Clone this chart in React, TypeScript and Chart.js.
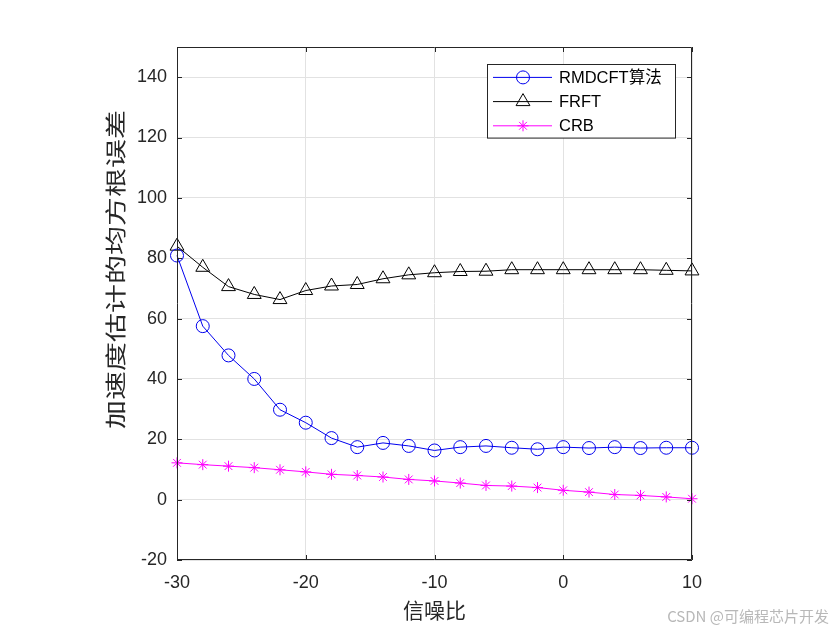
import { Chart, Plugin, registerables } from "chart.js";
import { drawPoint } from "chart.js/helpers";
import { useEffect, useRef } from "react";

Chart.register(...registerables);

const snr = [-30, -28, -26, -24, -22, -20, -18, -16, -14, -12, -10, -8, -6, -4, -2, 0, 2, 4, 6, 8, 10];
const rmdcft = [80.9, 57.5, 47.8, 40.0, 29.8, 25.5, 20.4, 17.4, 18.8, 17.8, 16.3, 17.4, 17.8, 17.2, 16.7, 17.4, 17.1, 17.4, 17.1, 17.2, 17.2];
const frft = [84.0, 77.0, 70.6, 68.0, 66.3, 69.3, 70.8, 71.3, 73.2, 74.5, 75.2, 75.6, 75.7, 76.2, 76.2, 76.2, 76.2, 76.2, 76.2, 76.0, 75.8];
const crb = [12.2, 11.6, 11.1, 10.6, 9.9, 9.2, 8.4, 8.0, 7.5, 6.7, 6.2, 5.5, 4.7, 4.5, 4.0, 3.1, 2.5, 1.7, 1.4, 0.9, 0.3];

const xTicks = [-30, -20, -10, 0, 10];
const yTicks = [-20, 0, 20, 40, 60, 80, 100, 120, 140];
const seriesNames = ["RMDCFT算法", "FRFT", "CRB"];
const xTitle = "信噪比";
const yTitle = "加速度估计的均方根误差";
const watermark = "CSDN @可编程芯片开发";

const latin = "'Liberation Sans', Arial, sans-serif";
const cjk = "'Noto Sans CJK SC', sans-serif";
const axisColor = "#262626";

// MATLAB-like box with inward ticks on all four sides
const axesBox: Plugin = {
  id: "axesBox",
  afterDatasetsDraw(chart) {
    const { ctx, chartArea: a, scales } = chart;
    const len = 5;
    ctx.save();
    ctx.strokeStyle = axisColor;
    ctx.lineWidth = 1;
    ctx.beginPath();
    ctx.rect(Math.round(a.left) + 0.5, Math.round(a.top) + 0.5, Math.round(a.width) - 1, Math.round(a.height) - 1);
    for (const v of xTicks) {
      const px = Math.round(scales.x.getPixelForValue(v)) + 0.5;
      ctx.moveTo(px, a.bottom);
      ctx.lineTo(px, a.bottom - len);
      ctx.moveTo(px, a.top);
      ctx.lineTo(px, a.top + len);
    }
    for (const v of yTicks) {
      const py = Math.round(scales.y.getPixelForValue(v)) + 0.5;
      ctx.moveTo(a.left, py);
      ctx.lineTo(a.left + len, py);
      ctx.moveTo(a.right, py);
      ctx.lineTo(a.right - len, py);
    }
    ctx.stroke();
    ctx.restore();
  },
};

const boxedLegend: Plugin = {
  id: "boxedLegend",
  afterDraw(chart) {
    const { ctx, chartArea: a } = chart;
    const items = chart.data.datasets as any[];
    const w = 188;
    const rowH = 24.2;
    const h = items.length * rowH + 1;
    const right = a.right - 17;
    const top = a.top + 17;
    const left = right - w;
    ctx.save();
    ctx.fillStyle = "#fff";
    ctx.fillRect(left, top, w, h);
    ctx.strokeStyle = axisColor;
    ctx.lineWidth = 1;
    ctx.strokeRect(Math.round(left) + 0.5, Math.round(top) + 0.5, w, h);
    ctx.font = `16.5px ${latin}, ${cjk}`;
    ctx.textBaseline = "middle";
    items.forEach((d, i) => {
      const y = top + 13.4 + i * rowH;
      ctx.strokeStyle = d.borderColor;
      ctx.lineWidth = d.borderWidth;
      ctx.beginPath();
      ctx.moveTo(left + 6, y);
      ctx.lineTo(left + 65, y);
      ctx.stroke();
      ctx.fillStyle = "rgba(0,0,0,0)";
      ctx.strokeStyle = d.pointBorderColor;
      ctx.lineWidth = d.pointBorderWidth;
      drawPoint(ctx, { pointStyle: d.pointStyle, radius: d.pointRadius, rotation: 0, borderWidth: d.pointBorderWidth }, left + 36, y);
      ctx.fillStyle = "#000";
      ctx.fillText(d.label, left + 72, y + 1);
    });
    ctx.restore();
  },
};

const axisTitles: Plugin = {
  id: "axisTitles",
  afterDraw(chart) {
    const { ctx, chartArea: a } = chart;
    ctx.save();
    ctx.fillStyle = axisColor;
    ctx.textAlign = "center";
    ctx.textBaseline = "middle";
    ctx.font = `21px ${cjk}`;
    ctx.fillText(xTitle, (a.left + a.right) / 2, a.bottom + 50);

    // the reference's vertical label is stretched along its reading direction
    ctx.translate(a.left - 62, (a.top + a.bottom) / 2 - 34);
    ctx.rotate(-Math.PI / 2);
    ctx.scale(1.38, 1);
    ctx.fillText(yTitle, 0, 0);
    ctx.restore();

    ctx.save();
    ctx.fillStyle = "#b8b8b8";
    ctx.font = `15px ${cjk}`;
    ctx.textAlign = "right";
    ctx.textBaseline = "middle";
    ctx.fillText(watermark, 829, 616);
    ctx.restore();
  },
};

function RmseChart() {
  const canvasRef = useRef<HTMLCanvasElement | null>(null);

  useEffect(() => {
    const canvas = canvasRef.current;
    if (!canvas) {
      return;
    }

    const series = [
      { values: rmdcft, color: "#0000ee", style: "circle", radius: 6.5 },
      { values: frft, color: "#000000", style: "triangle", radius: 8 },
      { values: crb, color: "#ff00ff", style: "star", radius: 5.5 },
    ];

    const chart = new Chart(canvas, {
      type: "line",
      data: {
        datasets: series.map((s, i) => ({
          label: seriesNames[i],
          data: snr.map((x, j) => ({ x, y: s.values[j] })),
          borderColor: s.color,
          borderWidth: 1,
          pointStyle: s.style as any,
          pointRadius: s.radius,
          pointBorderColor: s.color,
          pointBorderWidth: 1,
          pointBackgroundColor: "rgba(0,0,0,0)",
          tension: 0,
          clip: false as any,
        })),
      },
      options: {
        responsive: false,
        animation: false,
        layout: { padding: { top: 47, right: 148, left: 0, bottom: 0 } },
        plugins: {
          legend: { display: false },
          tooltip: { enabled: false },
        },
        scales: {
          x: {
            type: "linear",
            min: -30,
            max: 10,
            afterBuildTicks: (scale) => {
              scale.ticks = xTicks.map((value) => ({ value }));
            },
            afterFit: (scale) => {
              scale.height = 70;
            },
            ticks: {
              color: axisColor,
              font: { family: latin, size: 18 },
              padding: 12,
              maxRotation: 0,
            },
            grid: { color: "#e2e2e2", drawTicks: false },
            border: { display: false },
          },
          y: {
            type: "linear",
            min: -20,
            max: 150,
            afterBuildTicks: (scale) => {
              scale.ticks = yTicks.map((value) => ({ value }));
            },
            afterFit: (scale) => {
              scale.width = 177;
            },
            ticks: {
              color: axisColor,
              font: { family: latin, size: 18 },
              padding: 10,
            },
            grid: { color: "#e2e2e2", drawTicks: false },
            border: { display: false },
          },
        },
      },
      plugins: [axesBox, boxedLegend, axisTitles],
    });

    return () => {
      chart.destroy();
    };
  }, []);

  return (
    <div style={{ position: "fixed", left: 0, top: 0, width: 840, height: 630, background: "#fff" }}>
      <canvas ref={canvasRef} width={840} height={630} style={{ display: "block" }} />
    </div>
  );
}

export default function App() {
  return <RmseChart />;
}
